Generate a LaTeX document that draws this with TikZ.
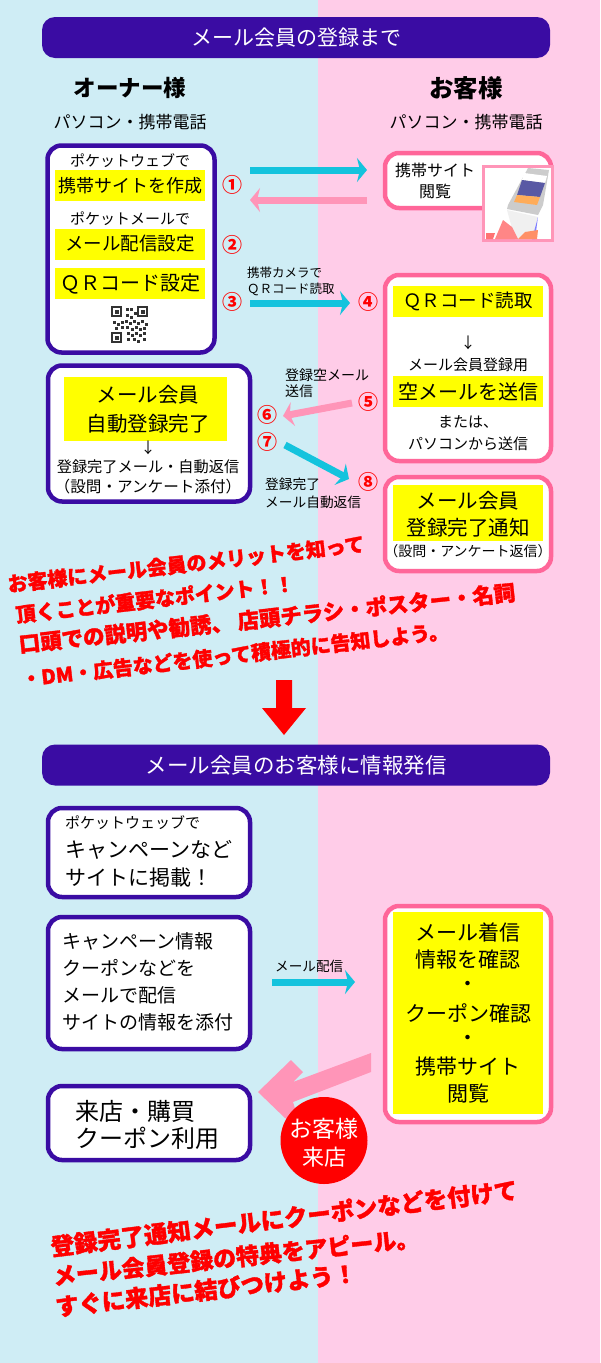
\documentclass[tikz,border=0pt]{standalone}
\usepackage{fontspec}
\setmainfont{Noto Sans CJK JP}
\newfontfamily\popfont[BoldFeatures={FakeBold=1.5}]{Noto Sans CJK JP}
\usetikzlibrary{arrows.meta}

\definecolor{skyback}{RGB}{207,237,245}
\definecolor{pinkback}{RGB}{255,204,232}
\definecolor{barblue}{RGB}{58,12,163}
\definecolor{boxpink}{RGB}{255,102,153}
\definecolor{lightpink}{RGB}{255,149,184}
\definecolor{arrowcyan}{RGB}{20,195,221}
\definecolor{markyellow}{RGB}{255,255,0}
\definecolor{popred}{RGB}{255,0,0}

\tikzset{
  txt/.style={inner sep=0pt,font=\fontsize{#1}{#1}\selectfont},
  bluebox/.style={draw=barblue,fill=white,line width=4.5pt,rounded corners=14pt,inner sep=0pt},
  pinkbox/.style={draw=boxpink,fill=white,line width=4.5pt,rounded corners=14pt,inner sep=0pt},
  titlebar/.style={fill=barblue,rounded corners=13pt,minimum width=508pt,minimum height=41pt,text=white,txt=21},
  yellowbar/.style={fill=markyellow,minimum width=150pt,minimum height=31pt},
  numtext/.style={inner sep=0pt,text=popred,font=\bfseries\fontsize{20}{24}\selectfont},
  shout/.style={inner sep=0pt,text=popred,font=\popfont\bfseries\fontsize{#1}{#1}\selectfont},
  goarrow/.style={arrowcyan,line width=7pt,-{Stealth[length=10pt,width=24pt,inset=3pt]}},
  backarrow/.style={lightpink,line width=7pt,-{Stealth[length=10pt,width=24pt,inset=3pt]}}
}

\begin{document}
\begin{tikzpicture}[x=1pt,y=-1pt]
  \useasboundingbox (0,0) rectangle (600,1363);
  \fill[skyback] (0,0) rectangle (318,1363);
  \fill[pinkback] (318,0) rectangle (600,1363);

  \node[titlebar] (title) at (296,37.5) {メール会員の登録まで};
  \node[inner sep=0pt,font=\bfseries\fontsize{22.5}{26}\selectfont] (owner) at (130,88) {オーナー様};
  \node[inner sep=0pt,font=\bfseries\fontsize{24.5}{26}\selectfont] (guest) at (466,88) {お客様};
  \node[txt=17] (ownerpc) at (130,122) {パソコン・携帯電話};
  \node[txt=17] (guestpc) at (466,122) {パソコン・携帯電話};

  \node[bluebox,minimum width=167pt,minimum height=207pt] (makebox) at (131,249) {};
  \node[txt=15] (webby) at (130,161) {ポケットウェブで};
  \node[yellowbar,txt=18] (makesite) at (130,185.5) {携帯サイトを作成};
  \node[txt=15] (mailby) at (130,219) {ポケットメールで};
  \node[yellowbar,txt=18.5] (makemail) at (130,244) {メール配信設定};
  \node[yellowbar,txt=20] (makeqr) at (130,283.5) {ＱＲコード設定};
  \foreach \px/\py in {0/0,0/26,26/0}{
    \draw[black!80,line width=1.5pt] (112+\px,307+\py) rectangle +(9,9);
    \fill[black!80] (115+\px,310+\py) rectangle +(4,4);
  }
  \foreach \px/\py in {14/1,18/1,22/5,14/7,18/9,1/14,5/16,9/14,13/13,17/15,21/13,25/15,29/13,33/16,3/20,
    9/19,14/19,19/21,23/19,27/21,31/20,15/25,19/27,23/25,27/27,31/25,15/31,21/31,25/33,31/31}{
    \fill[black!80] (112+\px,307+\py) rectangle +(3,3);
  }

  \node[pinkbox,minimum width=166pt,minimum height=55pt] (sitebox) at (468,180.5) {};
  \node[txt=16] (sitea) at (435,170) {携帯サイト};
  \node[txt=16] (siteb) at (435,191) {閲覧};
  \node[draw=lightpink,line width=3pt,fill=white,inner sep=0pt,minimum width=69pt,minimum height=74pt] (phonebox) at (518,203) {};
  \fill[red!55] (486,233) -- (495,233) -- (493,239) -- (486,239) -- cycle;
  \fill[black!20] (528,168) -- (549,170) -- (543,205) -- (538,215) -- (507,209) -- (508,205) -- cycle;
  \fill[black!6] (507,210) -- (538,217) -- (532,239) -- (515,239) -- cycle;
  \fill[blue!50] (538,217) -- (535,239) -- (532,239) -- cycle;
  \fill[white] (524,173) -- (547,176) -- (545,183) -- (522,180) -- cycle;
  \fill[blue!45!black!65] (522,180) -- (545,183) -- (540,197) -- (517,195) -- cycle;
  \fill[orange!65] (517,195) -- (540,197) -- (537,205) -- (514,202) -- cycle;
  \fill[pink!70!red] (503,220) -- (512,227) -- (518,239) -- (495,239) -- cycle;
  \fill[red!45!orange!60] (525,232) -- (538,230) -- (537,239) -- (518,239) -- cycle;

  \coordinate (goa) at (250,170);
  \coordinate (gob) at (367,170);
  \coordinate (backa) at (367,200);
  \coordinate (backb) at (250,200);
  \draw[goarrow] (goa) -- (gob);
  \draw[backarrow] (backa) -- (backb);

  \node[numtext] (numa) at (232,185) {①};
  \node[numtext] (numb) at (232,245) {②};
  \node[numtext] (numc) at (232,302) {③};
  \node[numtext] (numd) at (368,302) {④};
  \node[numtext] (nume) at (368,402) {⑤};
  \node[numtext] (numf) at (267,415) {⑥};
  \node[numtext] (numg) at (267,442) {⑦};
  \node[numtext] (numh) at (368,482) {⑧};

  \node[txt=12.5,anchor=west] (cama) at (247,273) {携帯カメラで};
  \node[txt=12.5,anchor=west] (camb) at (247,289) {ＱＲコード読取};
  \coordinate (reada) at (250,303);
  \coordinate (readb) at (350,303);
  \draw[goarrow] (reada) -- (readb);

  \node[pinkbox,minimum width=166pt,minimum height=186pt] (readbox) at (468,368) {};
  \node[yellowbar,txt=18.5] (readqr) at (468,301) {ＱＲコード読取};
  \node[txt=15] (readdown) at (468,343) {↓};
  \node[txt=15] (readfor) at (468,365) {メール会員登録用};
  \node[yellowbar,txt=20] (readsend) at (468,391.5) {空メールを送信};
  \node[txt=15] (reador) at (468,422) {または、};
  \node[txt=15] (readpc) at (468,444) {パソコンから送信};

  \node[bluebox,minimum width=202pt,minimum height=136pt] (autobox) at (149,433.5) {};
  \node[yellowbar,minimum width=163pt,minimum height=64pt] (automark) at (145.5,409) {};
  \node[txt=20.5] (autoa) at (148,395) {メール会員};
  \node[txt=20.5] (autob) at (148,424) {自動登録完了};
  \node[txt=15] (autodown) at (148,448) {↓};
  \node[txt=15.2] (autoc) at (148,467) {登録完了メール・自動返信};
  \node[txt=15.6] (autod) at (148,487) {（設問・アンケート添付）};

  \node[txt=14,anchor=west] (blanka) at (285,375) {登録空メール};
  \node[txt=14,anchor=west] (blankb) at (285,391) {送信};
  \coordinate (blankc) at (352,403);
  \coordinate (blankd) at (283,416);
  \draw[backarrow] (blankc) -- (blankd);
  \coordinate (donea) at (285,445);
  \coordinate (doneb) at (349,479);
  \draw[goarrow] (donea) -- (doneb);
  \node[txt=13.7,anchor=west] (donec) at (265,484) {登録完了};
  \node[txt=13.7,anchor=west] (doned) at (265,502) {メール自動返信};

  \node[pinkbox,minimum width=166pt,minimum height=94pt] (donebox) at (468,524) {};
  \node[yellowbar,minimum height=56pt] (donemark) at (468,513) {};
  \node[txt=20.5] (donee) at (468,501) {メール会員};
  \node[txt=20.5] (donef) at (468,528) {登録完了通知};
  \node[txt=14] (doneg) at (468,551) {（設問・アンケート返信）};

  \node[shout=20,rotate=6.5] (shouta) at (186,564) {お客様にメール会員のメリットを知って};
  \node[shout=20,rotate=6.5] (shoutb) at (155,599) {頂くことが重要なポイント！！};
  \node[shout=21.5,rotate=6] (shoutc) at (267,618) {口頭での説明や勧誘、 店頭チラシ・ポスター・名詞};
  \node[shout=20,rotate=6.5] (shoutd) at (235,655) {・DM・広告などを使って積極的に告知しよう。};

  \fill[popred] (276,680) -- (292,680) -- (292,708) -- (306,708) -- (284,735) -- (262,708) -- (276,708) -- cycle;

  \node[titlebar,txt=21.5] (titleb) at (296,765) {メール会員のお客様に情報発信};

  \node[bluebox,minimum width=202pt,minimum height=89pt] (postbox) at (149,852.5) {};
  \node[txt=15,anchor=west] (posta) at (65,823) {ポケットウェッブで};
  \node[txt=21,anchor=west] (postb) at (65,850) {キャンペーンなど};
  \node[txt=21,anchor=west] (postc) at (65,878) {サイトに掲載！};

  \node[bluebox,minimum width=202pt,minimum height=132pt] (sendbox) at (149,983) {};
  \node[txt=19,anchor=west] (senda) at (62,941) {キャンペーン情報};
  \node[txt=19,anchor=west] (sendb) at (62,968) {クーポンなどを};
  \node[txt=19,anchor=west] (sendc) at (62,995) {メールで配信};
  \node[txt=19,anchor=west] (sendd) at (62,1022) {サイトの情報を添付};

  \node[txt=13.6,anchor=west] (sendlabel) at (275,966) {メール配信};
  \coordinate (sende) at (272,982);
  \coordinate (sendf) at (355,982);
  \draw[goarrow] (sende) -- (sendf);

  \node[pinkbox,minimum width=166pt,minimum height=216pt] (mailbox) at (468,1014) {};
  \node[yellowbar,minimum height=202pt] (mailmark) at (468,1013) {};
  \foreach \ly/\ltext [count=\li] in {932/メール着信,960/情報を確認,986/・,1013/クーポン確認,1040/・,1067/携帯サイト,1094/閲覧}{
    \node[txt=21] (mail\li) at (468,\ly) {\ltext};
  }

  \node[bluebox,minimum width=202pt,minimum height=74pt] (shopbox) at (149,1123) {};
  \node[txt=24,anchor=west] (shopa) at (75,1111) {来店・購買};
  \node[txt=24,anchor=west] (shopb) at (75,1138) {クーポン利用};

  \fill[lightpink] (258,1092) -- (291,1060) -- (303,1072) -- (293,1082) -- (371,1053) -- (371,1072) -- (293,1102) -- (300,1125) -- (285,1118) -- cycle;
  \node[fill=popred,circle,inner sep=0pt,minimum size=87pt] (visit) at (324,1140.5) {};
  \node[txt=23,text=white] (visita) at (324,1129) {お客様};
  \node[txt=22,text=white] (visitb) at (324,1157) {来店};

  \node[shout=23.5,rotate=7] (calla) at (284,1218) {登録完了通知メールにクーポンなどを付けて};
  \node[shout=23,rotate=6] (callb) at (236,1257) {メール会員登録の特典をアピール。};
  \node[shout=23.3,rotate=6.5] (callc) at (206,1290) {すぐに来店に結びつけよう！};
\end{tikzpicture}
\end{document}
